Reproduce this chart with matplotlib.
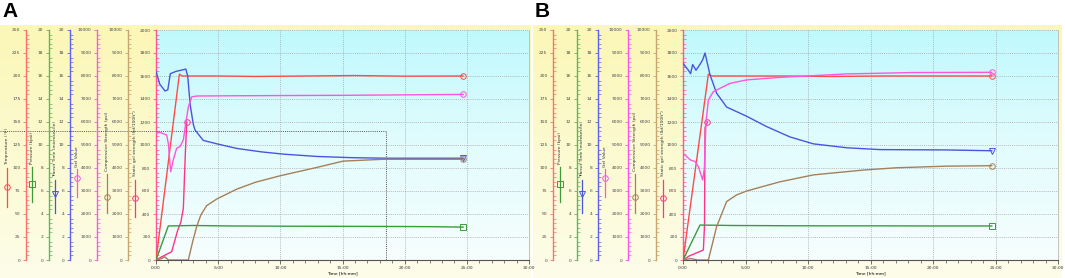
import numpy as np
import matplotlib
matplotlib.use("Agg")
import matplotlib.pyplot as plt
from matplotlib.colors import LinearSegmentedColormap
from matplotlib.lines import Line2D
from matplotlib.ticker import MultipleLocator, AutoMinorLocator

plt.rcParams["font.family"] = ["DejaVu Sans"]

W, H = 1065, 278

# ---------------- data (time in minutes) ----------------
# panel A
temp_t_a = [0, 1.88, 2.1, 5, 8, 12, 16, 20, 24.7]
temp_a = [0, 202, 200, 200, 199.5, 200, 200.5, 199.8, 200]
pres_t_a = [0, 0.99, 3, 6, 10, 14, 18, 22, 24.7]
pres_a = [0, 2.96, 3.0, 2.96, 2.94, 2.93, 2.92, 2.9, 2.86]
trans_t_a = [0, 0.3, 0.72, 0.95, 1.15, 1.6, 2.0, 2.4, 2.55, 2.75, 3.0, 3.14, 3.8,
             4.9, 6.5, 8.5, 10.3, 13.0, 15.7, 18.5, 24.7]
trans_a = [16.4, 15.3, 14.7, 14.8, 16.2, 16.4, 16.5, 16.6, 16.0, 13.5, 11.8, 11.3, 10.4,
           10.1, 9.7, 9.4, 9.2, 9.0, 8.9, 8.85, 8.85]
gel_t_a = [0, 0.32, 0.86, 0.99, 1.18, 1.39, 1.66, 1.93, 2.2, 2.41, 2.6, 2.87, 3.27,
           6, 10, 15, 20, 24.7]
gel_a = [5510, 5550, 5430, 5070, 3840, 4350, 4860, 4930, 5220, 6010, 6650, 7090, 7130,
         7140, 7150, 7160, 7180, 7200]
cs_t_a = [0, 0.4, 0.7, 1.0, 2.6, 2.95, 3.27, 3.6, 4.07, 4.88, 6.49, 8.0, 9.97, 12.9,
          15.06, 18.3, 24.7]
cs_a = [0, 50, 140, 0, 0, 800, 1450, 1950, 2360, 2650, 3080, 3380, 3660, 4020,
        4300, 4380, 4380]
sgs_t_a = [0, 0.5, 1.26, 1.75, 2.0, 2.2, 2.35, 2.47]
sgs_a = [0, 30, 72, 260, 330, 450, 900, 1200]
cursor_t_a = 18.5
cursor_sgs_a = 1120

# panel B
temp_t_b = [0, 2.03, 2.3, 5, 8, 12, 16, 20, 24.7]
temp_b = [0, 202, 200, 200, 200, 199.5, 200, 200, 200]
pres_t_b = [0, 1.36, 4, 8, 12, 16, 20, 24.7]
pres_b = [0, 3.04, 3.0, 2.98, 2.97, 2.97, 2.96, 2.96]
trans_t_b = [0, 0.43, 0.61, 0.77, 1.04, 1.41, 1.57, 1.76, 2.16, 2.69, 3.49, 5.09,
             6.69, 8.56, 10.43, 13.1, 15.76, 21.1, 24.7]
trans_b = [17.1, 16.5, 16.2, 17.0, 16.5, 17.1, 17.4, 18.0, 16.1, 14.5, 13.3, 12.5,
           11.6, 10.7, 10.1, 9.76, 9.6, 9.57, 9.5]
gel_t_b = [0, 0.59, 0.96, 1.23, 1.49, 1.57, 1.71, 1.84, 2.03, 2.43, 3.76, 5.09, 7.76,
           13.1, 18.4, 24.7]
gel_b = [4640, 4350, 4280, 4060, 3620, 3480, 3990, 6000, 6960, 7320, 7680, 7830, 7940,
         8090, 8150, 8160]
cs_t_b = [0, 0.6, 1.2, 2.03, 2.69, 3.49, 4.29, 5.09, 7.76, 10.43, 14.4, 17.07, 21.07, 24.7]
cs_b = [0, 60, 0, 0, 1450, 2540, 2830, 3000, 3400, 3700, 3910, 4010, 4080, 4100]
sgs_t_b = [0, 0.5, 1.63, 1.72, 1.76, 1.95]
sgs_b = [0, 35, 87, 300, 1150, 1200]

# axes
axis_labels = ["Temperature (°F)", "Pressure (kpsi)", "Transit Time (microsec/in)",
               "Gel Value", "Compressive Strength (psi)", "Static gel strength (lbf/100ft²)"]
axis_max = [250, 20, 20, 10000, 10000, 2000]
axis_step = [25, 2, 2, 1000, 1000, 200]
time_ticks = [0, 5, 10, 15, 20, 25, 30]
time_labels = ["0:00", "5:00", "10:00", "15:00", "20:00", "25:00", "30:00"]

# ---------------- styles ----------------
spine_colors = ["#ff6f6f", "#5cb85c", "#6060ee", "#ff55ee", "#c9a46e", "#ff5599"]
line_colors = ["#ff4a4a", "#3c9a3c", "#4a55dd", "#ff55dd", "#a58058", "#ff3388"]
markers = ["o", "s", "v", "o", "o", "o"]
small = 3.2

label_bottom = [165, 164, 177, 167, 171, 176]
glyph_top = [168, 167, 180, 169, 174, 180]
glyph_bot = [207, 202, 213, 197, 213, 217]
glyph_mark = [187, 184, 194, 178, 197, 198]

plot_cmap = LinearSegmentedColormap.from_list("plotbg", ["#f7fefe", "#e2fcfd", "#bff9fd"])
side_cmap = LinearSegmentedColormap.from_list("sidebg", ["#fdfdea", "#fbf7b6"])
grad = np.linspace(1, 0, 256).reshape(-1, 1)

fig = plt.figure(figsize=(W / 100, H / 100), dpi=100)


def fx(px):
    return px / W


def fy(py):
    return 1 - py / H


def draw_panel(left, right, spine_px, label_px, bg_x0, bg_x1, series, letter, cursor=None):
    bg = fig.add_axes([fx(bg_x0), 0, fx(bg_x1 - bg_x0), (H - 25) / H])
    bg.imshow(grad, cmap=side_cmap, aspect="auto", extent=(0, 1, 0, 1), vmin=0, vmax=1)
    bg.axis("off")
    bg.set_zorder(0)

    ax = fig.add_axes([fx(left), fy(260), fx(right - left), 230 / H])
    ax.set_zorder(1)
    ax.imshow(grad, cmap=plot_cmap, aspect="auto", extent=(0, 1, 0, 1),
              transform=ax.transAxes, vmin=0, vmax=1, zorder=0)
    ax.set_xlim(0, 30)
    ax.set_ylim(0, axis_max[5])
    ax.set_xticks(time_ticks)
    ax.set_xticklabels(time_labels)
    ax.xaxis.set_minor_locator(MultipleLocator(1))
    ax.yaxis.set_major_locator(MultipleLocator(axis_step[5]))
    ax.yaxis.set_minor_locator(AutoMinorLocator(5))
    ax.grid(True, which="major", color="#9c9c9c", linestyle=(0, (1, 1.5)), linewidth=0.55)
    ax.set_xlabel("Time [hh:mm]", fontsize=small, labelpad=0.5)
    ax.tick_params(axis="x", which="major", length=3, width=0.6, color="#555555",
                   labelsize=small, pad=1.5, labelcolor="#333333")
    ax.tick_params(axis="x", which="minor", length=1.8, width=0.5, color="#555555")
    ax.spines["top"].set_visible(False)
    ax.spines["right"].set_color("#b8b8b8")
    ax.spines["right"].set_linewidth(0.6)
    ax.spines["bottom"].set_color("#555555")
    ax.spines["bottom"].set_linewidth(0.8)

    axes = []
    for i in range(5):
        tw = ax.twinx()
        tw.set_zorder(2)
        tw.set_ylim(0, axis_max[i])
        for s in ("top", "bottom", "right"):
            tw.spines[s].set_visible(False)
        tw.spines["left"].set_visible(True)
        tw.spines["left"].set_position(("outward", (left - spine_px[i]) * 0.72))
        tw.yaxis.set_ticks_position("left")
        tw.yaxis.set_label_position("left")
        axes.append(tw)
    axes.append(ax)

    for i, a in enumerate(axes):
        a.spines["left"].set_color(spine_colors[i])
        a.spines["left"].set_linewidth(1.0)
        a.yaxis.set_major_locator(MultipleLocator(axis_step[i]))
        a.yaxis.set_minor_locator(AutoMinorLocator(5))
        a.tick_params(axis="y", which="major", direction="out", length=2.5, width=0.6,
                      color=spine_colors[i], labelsize=small, labelcolor="#444444", pad=1.5)
        a.tick_params(axis="y", which="minor", direction="in", length=1.8, width=0.5,
                      color=spine_colors[i])
        t, v = series[i]
        a.plot(t, v, color=line_colors[i], linewidth=1.0, marker=markers[i],
               markevery=[len(t) - 1], markersize=4, markerfacecolor="none",
               markeredgewidth=0.7, zorder=3)

        # label and legend glyph left of each axis
        if label_px[i] is not None:
            fig.text(fx(label_px[i]), fy(label_bottom[i]), axis_labels[i], rotation=90,
                     ha="center", va="bottom", fontsize=small, color="#333333", zorder=5)
            fig.add_artist(Line2D([fx(label_px[i])] * 2, [fy(glyph_top[i]), fy(glyph_bot[i])],
                                  color=line_colors[i], linewidth=0.9, zorder=5))
            fig.add_artist(Line2D([fx(label_px[i])], [fy(glyph_mark[i])], marker=markers[i],
                                  markersize=4, markerfacecolor="none",
                                  markeredgecolor=line_colors[i], markeredgewidth=0.7,
                                  zorder=6))

    if cursor is not None:
        ct, cv = cursor
        x_left = -left / (right - left) * 30
        ax.plot([x_left, ct, ct], [cv, cv, 0], color="#555555", linewidth=0.7,
                linestyle=(0, (1, 1.2)), clip_on=False, zorder=4)

    ax.set_xlim(0, 30)
    ax.set_ylim(0, axis_max[5])
    fig.text(fx(bg_x0 + 2), fy(2), letter, fontsize=15, fontweight="bold",
             family=["Liberation Sans", "DejaVu Sans"], ha="left", va="top")


series_a = [(temp_t_a, temp_a), (pres_t_a, pres_a), (trans_t_a, trans_a),
            (gel_t_a, gel_a), (cs_t_a, cs_a), (sgs_t_a, sgs_a)]
series_b = [(temp_t_b, temp_b), (pres_t_b, pres_b), (trans_t_b, trans_b),
            (gel_t_b, gel_b), (cs_t_b, cs_b), (sgs_t_b, sgs_b)]

draw_panel(156, 529, [26, 49, 70, 97, 128], [7, 32, 55, 77, 107, 135], 0, 531,
           series_a, "A", cursor=(cursor_t_a, cursor_sgs_a))
draw_panel(683, 1058, [553, 577, 598, 628, 656], [None, 560, 582, 605, 635, 663], 533, 1062,
           series_b, "B")

fig.savefig("out.png", dpi=100)
